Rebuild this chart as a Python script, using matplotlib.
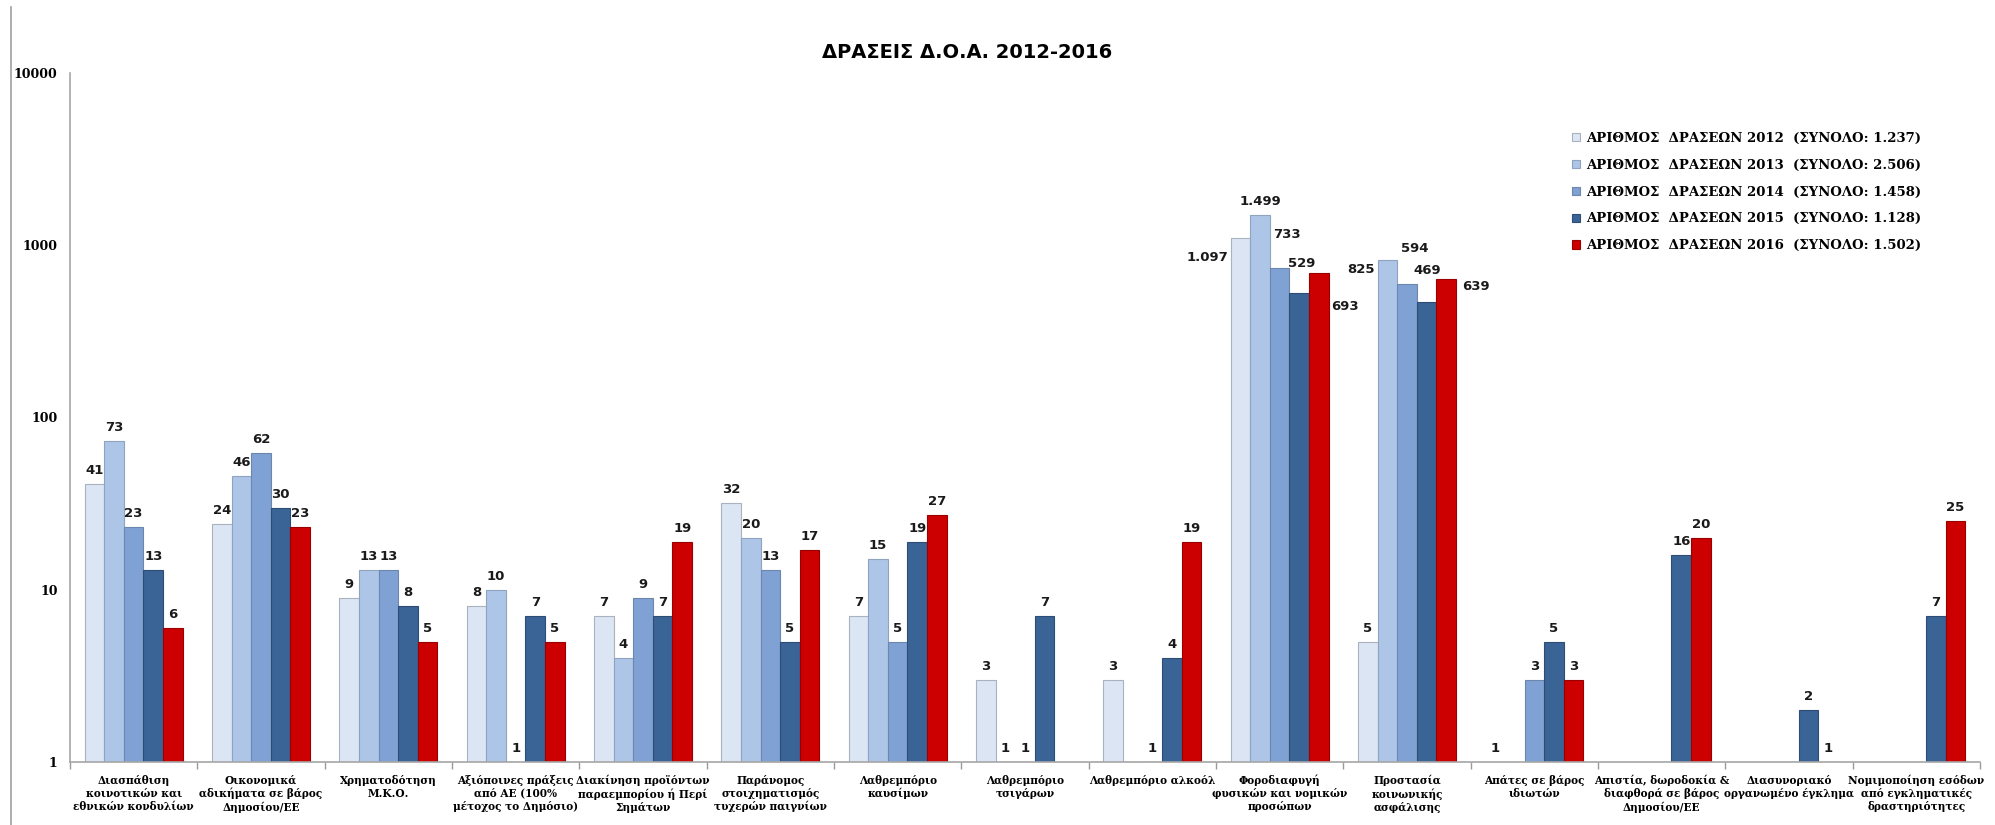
import numpy as np
import matplotlib
matplotlib.use("Agg")
import matplotlib.pyplot as plt
from matplotlib.lines import Line2D

# Κατηγορίες αδικημάτων
categories = [
    "Διασπάθιση\nκοινοτικών και\nεθνικών κονδυλίων",
    "Οικονομικά\nαδικήματα σε βάρος\nΔημοσίου/ΕΕ",
    "Χρηματοδότηση\nΜ.Κ.Ο.",
    "Αξιόποινες πράξεις\nαπό ΑΕ (100%\nμέτοχος το Δημόσιο)",
    "Διακίνηση προϊόντων\nπαραεμπορίου ή Περί\nΣημάτων",
    "Παράνομος\nστοιχηματισμός\nτυχερών παιγνίων",
    "Λαθρεμπόριο\nκαυσίμων",
    "Λαθρεμπόριο\nτσιγάρων",
    "Λαθρεμπόριο αλκοόλ",
    "Φοροδιαφυγή\nφυσικών και νομικών\nπροσώπων",
    "Προστασία\nκοινωνικής\nασφάλισης",
    "Απάτες σε βάρος\nιδιωτών",
    "Απιστία, δωροδοκία &\nδιαφθορά σε βάρος\nΔημοσίου/ΕΕ",
    "Διασυνοριακό\nοργανωμένο έγκλημα",
    "Νομιμοποίηση εσόδων\nαπό εγκληματικές\nδραστηριότητες",
]

# Αριθμός δράσεων ανά έτος (None = δεν υπάρχει τιμή)
actions_2012 = [41, 24, 9, 8, 7, 32, 7, 3, 3, 1097, 5, 1, None, None, None]
actions_2013 = [73, 46, 13, 10, 4, 20, 15, 1, None, 1499, 825, None, None, None, None]
actions_2014 = [23, 62, 13, 1, 9, 13, 5, 1, 1, 733, 594, 3, None, None, None]
actions_2015 = [13, 30, 8, 7, 7, 5, 19, 7, 4, 529, 469, 5, 16, 2, 7]
actions_2016 = [6, 23, 5, 5, 19, 17, 27, None, 19, 693, 639, 3, 20, 1, 25]

series_labels = [
    "ΑΡΙΘΜΟΣ  ΔΡΑΣΕΩΝ 2012  (ΣΥΝΟΛΟ: 1.237)",
    "ΑΡΙΘΜΟΣ  ΔΡΑΣΕΩΝ 2013  (ΣΥΝΟΛΟ: 2.506)",
    "ΑΡΙΘΜΟΣ  ΔΡΑΣΕΩΝ 2014  (ΣΥΝΟΛΟ: 1.458)",
    "ΑΡΙΘΜΟΣ  ΔΡΑΣΕΩΝ 2015  (ΣΥΝΟΛΟ: 1.128)",
    "ΑΡΙΘΜΟΣ  ΔΡΑΣΕΩΝ 2016  (ΣΥΝΟΛΟ: 1.502)",
]
series = [actions_2012, actions_2013, actions_2014, actions_2015, actions_2016]
colors = ["#dbe5f3", "#adc5e7", "#80a1d4", "#3a6396", "#cc0000"]
edges = ["#a9b2bf", "#8fa3bf", "#6c86ad", "#2d4d75", "#9a0000"]

# Θέσεις ετικετών για τις δύο μεγάλες ομάδες (κέντρο ετικέτας ως προς την κορυφή, px)
label_nudge = {
    (9, 0): (-33, -19), (9, 2): (7, 34), (9, 3): (2, 29), (9, 4): (26, -34),
    (10, 1): (-26, -10), (10, 2): (8, 36), (10, 3): (1, 31), (10, 4): (30, -8),
}

serif = "DejaVu Serif"
sans = "DejaVu Sans"

fig = plt.figure(figsize=(19.95, 8.25), dpi=100)
ax = fig.add_axes([70 / 1995, 1 - 762 / 825, 1910 / 1995, (762 - 73) / 825])

x = np.arange(len(categories))
bw = 0.154
for i, vals in enumerate(series):
    xs = x + (i - 2) * bw
    heights = [np.nan if v is None else v for v in vals]
    ax.bar(xs, heights, width=bw, color=colors[i], edgecolor=edges[i],
           linewidth=0.8, label=series_labels[i], zorder=2)
    for j, v in enumerate(vals):
        if v is None:
            continue
        txt = f"{v:,}".replace(",", ".")
        if (j, i) in label_nudge:
            dx, dy = label_nudge[(j, i)]
            ax.annotate(txt, (xs[j], v), xytext=(dx, dy), textcoords="offset pixels",
                        ha="center", va="center", fontsize=9.5, fontweight="bold",
                        family=sans, color="#1a1a1a")
        else:
            ax.annotate(txt, (xs[j], v), xytext=(0, 7), textcoords="offset pixels",
                        ha="center", va="bottom", fontsize=9.5, fontweight="bold",
                        family=sans, color="#1a1a1a")

ax.set_yscale("log")
ax.set_ylim(1, 10000)
ax.set_xlim(-0.5, len(categories) - 0.5)
ax.set_yticks([1, 10, 100, 1000, 10000])
ax.set_yticklabels(["1", "10", "100", "1000", "10000"], family=serif,
                   fontweight="bold", fontsize=9)
ax.yaxis.set_minor_locator(matplotlib.ticker.NullLocator())
ax.tick_params(axis="y", length=0, pad=9)

ax.set_xticks(x)
ax.set_xticklabels(categories, family=serif, fontweight="bold", fontsize=7.6,
                   linespacing=1.25)
ax.set_xticks(np.arange(len(categories) + 1) - 0.5, minor=True)
ax.tick_params(axis="x", which="major", length=0, pad=9)
ax.tick_params(axis="x", which="minor", length=5, color="#9a9a9a", width=1)

for s in ["top", "right"]:
    ax.spines[s].set_visible(False)
for s in ["left", "bottom"]:
    ax.spines[s].set_color("#a6a6a6")
    ax.spines[s].set_linewidth(1.2)

leg = ax.legend(loc="upper left", bbox_to_anchor=(1560 / 1995, 1 - 120 / 825),
                bbox_transform=fig.transFigure, frameon=False,
                prop={"family": serif, "weight": "bold", "size": 9.5},
                handlelength=0.6, handleheight=0.6, handletextpad=0.5,
                labelspacing=1.05)

fig.text(967 / 1995, 1 - 53 / 825, "ΔΡΑΣΕΙΣ Δ.Ο.Α. 2012-2016", ha="center",
         va="center", fontsize=14, fontweight="bold", family=sans)

fig.add_artist(Line2D([11 / 1995, 11 / 1995], [0, 1 - 7 / 825],
                      transform=fig.transFigure, color="#a0a0a0", linewidth=1.2))

fig.savefig("out.png", dpi=100, facecolor="white")
